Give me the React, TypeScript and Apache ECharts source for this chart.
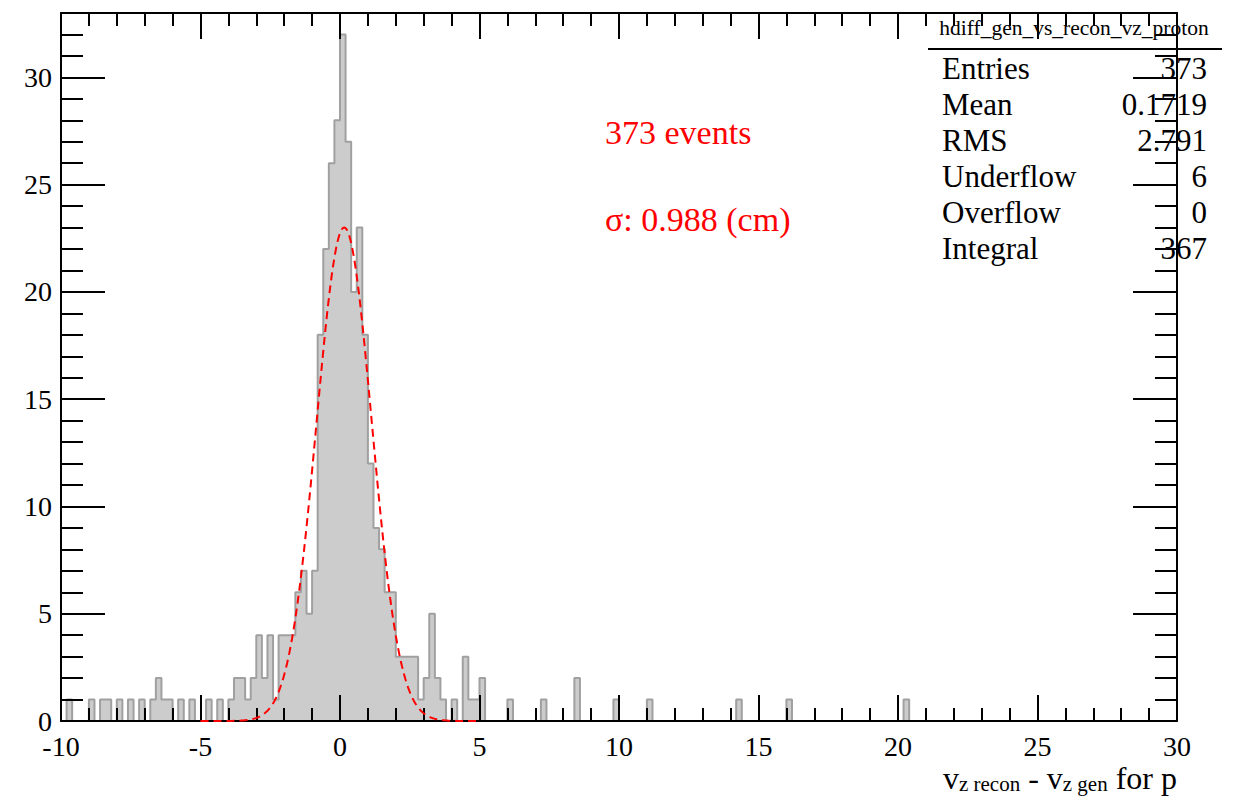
import React, { useEffect, useRef } from "react";
import * as echarts from "echarts";

// ---- Histogram definition (bins of 0.2 cm from -10 to 30) ----
const X_MIN = -10;
const X_MAX = 30;
const BIN_WIDTH = 0.2;
const Y_MAX = 33;

// low edges of the non-empty bins and their contents
const binLowEdges = [
  -9.8, -9.0, -8.6, -8.4, -8.0, -7.6, -7.2, -6.8, -6.6, -6.4, -6.2, -5.8, -5.4, -4.8, -4.4,
  -4.0, -3.8, -3.6, -3.4, -3.2, -3.0, -2.8, -2.6, -2.4, -2.2, -2.0, -1.8,
  -1.6, -1.4, -1.2, -1.0,
  -0.8, -0.6, -0.4, -0.2,
  0.0, 0.2, 0.4, 0.6,
  0.8, 1.0, 1.2, 1.4,
  1.6, 1.8, 2.0, 2.2, 2.4, 2.6,
  2.8, 3.0, 3.2, 3.4, 3.6,
  4.0, 4.4, 4.6, 4.8, 5.0,
  6.0, 7.2, 8.4, 9.8, 11.0, 14.2, 16.0, 20.2,
];
const binCounts = [
  1, 1, 1, 1, 1, 1, 1, 1, 2, 1, 1, 1, 1, 1, 1,
  1, 2, 2, 1, 2, 4, 2, 4, 1, 4, 4, 4,
  6, 7, 5, 7,
  18, 22, 26, 28,
  32, 27, 20, 23,
  18, 12, 9, 8,
  6, 6, 3, 3, 3, 3,
  1, 2, 5, 2, 1,
  1, 3, 1, 1, 2,
  1, 1, 2, 1, 1, 1, 1, 1,
];

// Gaussian fit parameters
const FIT_AMPLITUDE = 23.0;
const FIT_MEAN = 0.15;
const FIT_SIGMA = 0.988;
const FIT_RANGE = [-5, 5];

// Stats box
const statsTitle = "hdiff_gen_vs_recon_vz_proton";
const statsLabels = ["Entries", "Mean", "RMS", "Underflow", "Overflow", "Integral"];
const statsValues = ["373", "0.1719", "2.791", "6", "0", "367"];

const annotationLines = ["373 events", "σ: 0.988 (cm)"];

const xTickInterval = 5;
const yTickInterval = 5;

const SERIF = "'Liberation Serif', 'Times New Roman', 'DejaVu Serif', serif";

function buildHistogramOutline(): number[][] {
  const nBins = Math.round((X_MAX - X_MIN) / BIN_WIDTH);
  const full = new Array(nBins).fill(0);
  binLowEdges.forEach((edge, i) => {
    const idx = Math.round((edge - X_MIN) / BIN_WIDTH);
    if (idx >= 0 && idx < nBins) full[idx] += binCounts[i];
  });
  const pts: number[][] = [];
  for (let i = 0; i < nBins; i++) {
    pts.push([+(X_MIN + i * BIN_WIDTH).toFixed(4), full[i]]);
  }
  pts.push([X_MAX, full[nBins - 1]]);
  return pts;
}

function buildFitCurve(): number[][] {
  const pts: number[][] = [];
  const step = 0.02;
  const n = Math.round((FIT_RANGE[1] - FIT_RANGE[0]) / step);
  for (let i = 0; i <= n; i++) {
    const x = FIT_RANGE[0] + i * step;
    const y = FIT_AMPLITUDE * Math.exp(-((x - FIT_MEAN) ** 2) / (2 * FIT_SIGMA * FIT_SIGMA));
    pts.push([+x.toFixed(4), y]);
  }
  return pts;
}

export default function App() {
  const ref = useRef<HTMLDivElement>(null);

  useEffect(() => {
    if (!ref.current) return;
    const chart = echarts.init(ref.current, undefined, { renderer: "svg" });

    const tickLine = { color: "#000", width: 2 };
    const baseX = {
      type: "value" as const,
      min: X_MIN,
      max: X_MAX,
      interval: xTickInterval,
      z: 10,
      axisLine: { show: true, onZero: false, lineStyle: { color: "#000", width: 2 } },
      axisTick: { show: true, inside: true, length: 26, lineStyle: tickLine },
      minorTick: { show: true, splitNumber: 5, length: 13, lineStyle: tickLine },
      splitLine: { show: false },
      minorSplitLine: { show: false },
    };
    const baseY = {
      type: "value" as const,
      min: 0,
      max: Y_MAX,
      interval: yTickInterval,
      z: 10,
      axisLine: { show: true, onZero: false, lineStyle: { color: "#000", width: 2 } },
      axisTick: { show: true, inside: true, length: 44, lineStyle: tickLine },
      minorTick: { show: true, splitNumber: 5, length: 22, lineStyle: tickLine },
      splitLine: { show: false },
      minorSplitLine: { show: false },
    };

    const graphic: any[] = [];
    // stats box
    graphic.push({
      type: "text",
      x: 1074,
      y: 28,
      z: 20,
      style: {
        text: statsTitle,
        fontSize: 21.5,
        fontFamily: SERIF,
        fill: "#000",
        align: "center",
        verticalAlign: "middle",
      },
    });
    graphic.push({
      type: "line",
      z: 20,
      shape: { x1: 928, y1: 49, x2: 1222, y2: 49 },
      style: { stroke: "#000", lineWidth: 2 },
    });
    statsLabels.forEach((lab, i) => {
      const y = 68 + i * 36;
      graphic.push({
        type: "text",
        x: 942,
        y,
        z: 20,
        style: { text: lab, fontSize: 31, fontFamily: SERIF, fill: "#000", align: "left", verticalAlign: "middle" },
      });
      graphic.push({
        type: "text",
        x: 1207,
        y,
        z: 20,
        style: { text: statsValues[i], fontSize: 31, fontFamily: SERIF, fill: "#000", align: "right", verticalAlign: "middle" },
      });
    });
    // red annotations
    annotationLines.forEach((t, i) => {
      graphic.push({
        type: "text",
        x: 605,
        y: 132 + i * 87,
        z: 20,
        style: { text: t, fontSize: 34, fontFamily: SERIF, fill: "#ff0000", align: "left", verticalAlign: "middle" },
      });
    });
    // x-axis title
    graphic.push({
      type: "text",
      x: 1177,
      y: 762,
      z: 20,
      style: {
        text: "{m|v}{s|z recon}{m| - v}{s|z gen}{m| for p}",
        align: "right",
        verticalAlign: "top",
        fill: "#000",
        rich: {
          m: { fontSize: 32, fontFamily: SERIF, fill: "#000", verticalAlign: "top" },
          s: { fontSize: 21, fontFamily: SERIF, fill: "#000", verticalAlign: "top", padding: [11, 0, 0, 0] },
        },
      },
    });

    chart.setOption({
      animation: false,
      backgroundColor: "#fff",
      grid: { left: 61, right: 62, top: 13, bottom: 77, containLabel: false },
      xAxis: [
        {
          ...baseX,
          position: "bottom",
          axisLabel: { show: true, fontSize: 28, lineHeight: 20, fontFamily: SERIF, color: "#000", margin: 15 },
        },
        {
          ...baseX,
          position: "top",
          axisLabel: { show: false },
        },
      ],
      yAxis: [
        {
          ...baseY,
          position: "left",
          axisLabel: {
            show: true,
            fontSize: 28,
            lineHeight: 20,
            fontFamily: SERIF,
            color: "#000",
            margin: 9,
            formatter: (v: number) => (v % yTickInterval === 0 ? String(v) : ""),
          },
        },
        {
          ...baseY,
          position: "right",
          axisLabel: { show: false },
        },
      ],
      series: [
        {
          type: "line",
          name: "hist",
          xAxisIndex: 0,
          yAxisIndex: 0,
          data: buildHistogramOutline(),
          step: "end",
          symbol: "none",
          showSymbol: false,
          z: 2,
          lineStyle: { color: "#a0a0a0", width: 2 },
          areaStyle: { color: "#cccccc", opacity: 1 },
          silent: true,
        },
        {
          type: "line",
          name: "fit",
          xAxisIndex: 0,
          yAxisIndex: 0,
          data: buildFitCurve(),
          symbol: "none",
          showSymbol: false,
          z: 12,
          lineStyle: { color: "#ff0000", width: 2, type: [8, 5] },
          silent: true,
        },
      ],
      graphic,
    });

    return () => chart.dispose();
  }, []);

  return (
    <div
      ref={ref}
      style={{ position: "fixed", left: 0, top: 0, width: 1239, height: 798, background: "#fff" }}
    />
  );
}
